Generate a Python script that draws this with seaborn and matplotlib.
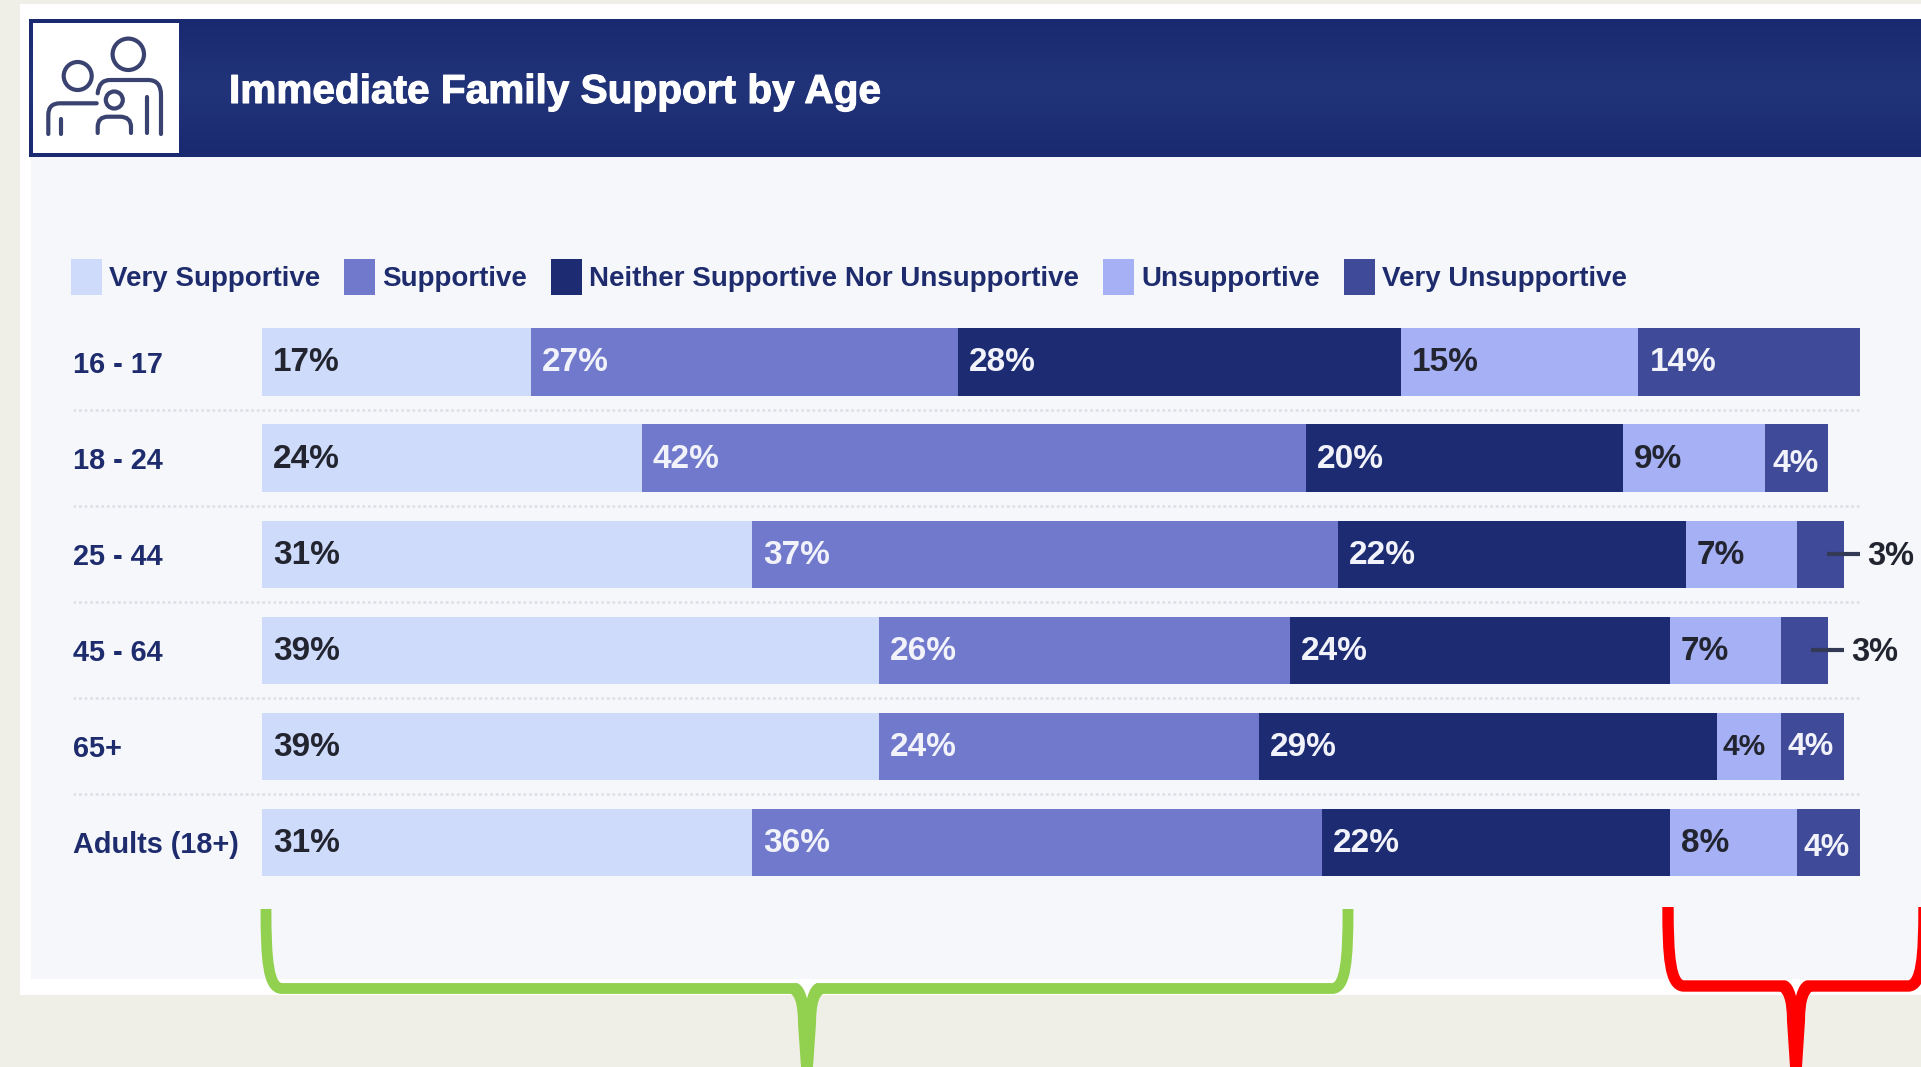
import numpy as np
import pandas as pd
import seaborn as sns
import matplotlib.pyplot as plt
import matplotlib.patheffects as pe
from matplotlib.colors import LinearSegmentedColormap
from matplotlib.patches import Rectangle, Circle, PathPatch
from matplotlib.path import Path

ages = ['16 - 17', '18 - 24', '25 - 44', '45 - 64', '65+', 'Adults (18+)']
very_supportive = [17, 24, 31, 39, 39, 31]
supportive = [27, 42, 37, 26, 24, 36]
neither = [28, 20, 22, 24, 29, 22]
unsupportive = [15, 9, 7, 7, 4, 8]
very_unsupportive = [14, 4, 3, 3, 4, 4]

series_names = ['Very Supportive', 'Supportive', 'Neither Supportive Nor Unsupportive',
                'Unsupportive', 'Very Unsupportive']
series_colors = ['#CFDBFA', '#7079CB', '#1C2B72', '#A6B0F5', '#3F4A98']
label_colors = ['#22252F', '#F2F3FA', '#F2F3FA', '#22252F', '#F2F3FA']

W, H = 1921, 1067
PX_PER_PCT = 15.82
BAR_X0 = 262
ROW0_Y = 362
ROW_PITCH = 96.1
NAVY = '#1E2C6E'

sns.set_theme(style='white')
plt.rcParams['font.family'] = ['Liberation Sans', 'DejaVu Sans']

fig = plt.figure(figsize=(W / 100, H / 100), dpi=100, facecolor='#EFEFE7')

# backdrop in pixel coordinates
bg = fig.add_axes([0, 0, 1, 1], zorder=0)
bg.add_patch(Rectangle((20, 4), W - 20, 991, color='white', lw=0, zorder=0))
bg.add_patch(Rectangle((31, 157), W - 31, 822, color='#F5F7FB', lw=0, zorder=0))
header_cmap = LinearSegmentedColormap.from_list('header', ['#1A2A70', '#213379', '#1A2A70'])
bg.imshow(np.linspace(0, 1, 64).reshape(-1, 1), extent=(29, W, 157, 19), aspect='auto',
          cmap=header_cmap, zorder=1)
bg.set_xlim(0, W)
bg.set_ylim(H, 0)
bg.axis('off')
bg.add_patch(Rectangle((33, 23), 146, 130, color='white', lw=0, zorder=2))
bg.text(229, 92, 'Immediate Family Support by Age', color='white', fontsize=29.2, fontweight='bold',
        va='center', ha='left', zorder=3, path_effects=[pe.withStroke(linewidth=0.8, foreground='white')])

# family icon
ICON = '#3A4270'
for cx, cy, r in [(128.3, 54.3, 15.7), (77.7, 76, 14), (114.3, 100, 8.5)]:
    bg.add_patch(Circle((cx, cy), r, fill=False, ec=ICON, lw=3, zorder=3))


def icon_line(verts, codes):
    bg.add_patch(PathPatch(Path(verts, codes), fill=False, ec=ICON, lw=3, capstyle='round', zorder=3))


M, L, C = Path.MOVETO, Path.LINETO, Path.CURVE3
icon_line([(97.7, 93.3), (99, 80), (110, 80), (148, 80), (161, 80), (161, 95), (161, 134)],
          [M, C, C, L, C, C, L])
icon_line([(147, 97), (147, 133)], [M, L])
icon_line([(48.3, 134), (48.3, 115), (48.3, 103.3), (60, 103.3), (96.7, 103.3)], [M, L, C, C, L])
icon_line([(60.7, 119), (60.7, 134)], [M, L])
icon_line([(97.7, 133), (97.7, 127), (97.7, 116.7), (108, 116.7), (120, 116.7), (131, 116.7), (131, 127), (131, 133)],
          [M, L, C, C, L, C, C, L])


def brace(x0, xmid, x1, ytop, ybar, color, lw):
    verts = [(x0, ytop), (x0, ybar - 30), (x0 + 2, ybar), (x0 + 16, ybar), (x1 - 16, ybar),
             (x1 - 2, ybar), (x1, ybar - 30), (x1, ytop)]
    codes = [M, Path.CURVE4, Path.CURVE4, Path.CURVE4, L, Path.CURVE4, Path.CURVE4, Path.CURVE4]
    bg.add_patch(PathPatch(Path(verts, codes), fill=False, ec=color, lw=lw, capstyle='butt', zorder=3))
    # tapered stem below the middle of the brace
    stem = [(xmid - 20, ybar + 4), (xmid - 9, ybar + 4), (xmid - 9, ybar + 35), (xmid - 6, H),
            (xmid + 6, H), (xmid + 9, ybar + 35), (xmid + 9, ybar + 4), (xmid + 20, ybar + 4),
            (xmid - 20, ybar + 4)]
    stem_codes = [M, C, C, L, L, L, C, C, Path.CLOSEPOLY]
    bg.add_patch(PathPatch(Path(stem, stem_codes), fc=color, ec='none', zorder=3))
    # small notch above the stem
    notch = [(xmid - 16, ybar - 7), (xmid - 4, ybar - 7), (xmid, ybar + 10), (xmid + 4, ybar - 7),
             (xmid + 16, ybar - 7), (xmid - 16, ybar - 7)]
    notch_codes = [M, C, C, C, C, Path.CLOSEPOLY]
    bg.add_patch(PathPatch(Path(notch, notch_codes), fc='white', ec='none', zorder=4))


brace(266, 807, 1348, 909, 988.5, '#92D050', 7.8)
brace(1668, 1796, 1924, 907, 986, '#FF0000', 8.2)

# chart axes share the whole figure, scaled so one percent is PX_PER_PCT wide
ax = fig.add_axes([0, 0, 1, 1], zorder=1)
ax.patch.set_alpha(0)

table = pd.DataFrame({'age': ages, series_names[0]: very_supportive, series_names[1]: supportive,
                      series_names[2]: neither, series_names[3]: unsupportive,
                      series_names[4]: very_unsupportive})
left = np.zeros(len(ages))
for name, col in zip(series_names, series_colors):
    sns.barplot(data=table, y='age', x=name, orient='h', left=left, color=col, width=0.7,
                saturation=1, label=name, ax=ax, errorbar=None, linewidth=0)
    left = left + table[name].to_numpy()

ax.set_xlim(-BAR_X0 / PX_PER_PCT, (W - BAR_X0) / PX_PER_PCT)
ax.set_ylim((H - ROW0_Y) / ROW_PITCH, -ROW0_Y / ROW_PITCH)
ax.axis('off')

# dotted row separators
x_sep0 = (73 - BAR_X0) / PX_PER_PCT
x_sep1 = (1860 - BAR_X0) / PX_PER_PCT
ax.hlines(np.arange(len(ages) - 1) + 0.5, x_sep0, x_sep1, color='#DFE1E6', lw=2, ls=(0, (1, 1)), zorder=0)

for i, age in enumerate(ages):
    ax.text(x_sep0, i + 0.03, age, color=NAVY, fontsize=20.8, fontweight='bold', va='center', ha='left')

# percent labels inside the segments
left = np.zeros(len(ages))
for name, lab_col in zip(series_names, label_colors):
    vals = table[name].to_numpy()
    for i, v in enumerate(vals):
        if v == 3:
            end = left[i] + v
            ax.plot([end - 1.1, end + 1.0], [i, i], color='#333A55', lw=3, solid_capstyle='butt')
            ax.text(end + 1.45, i + 0.02, f'{v}%', color='#22252F', fontsize=23.5, fontweight='bold',
                    va='center', ha='left')
        elif v == 4 and name == 'Unsupportive':
            ax.text(left[i] + 0.3, i + 0.01, f'{v}%', color=lab_col, fontsize=21.5, fontweight='bold',
                    va='center', ha='left')
        elif v == 4:
            dy = 0.01 if ages[i] == '65+' else 0.06
            ax.text(left[i] + 0.45, i + dy, f'{v}%', color=lab_col, fontsize=23, fontweight='bold',
                    va='center', ha='left')
        else:
            ax.text(left[i] + 0.7, i + 0.01, f'{v}%', color=lab_col, fontsize=24, fontweight='bold',
                    va='center', ha='left')
    left = left + vals

leg = ax.legend(loc='center left', bbox_to_anchor=(71 / W, 1 - 277 / H), bbox_transform=fig.transFigure,
                ncol=5, frameon=False, fontsize=20, borderpad=0, borderaxespad=0,
                handlelength=1.115, handleheight=1.59, handletextpad=0.26, columnspacing=0.86)
for t in leg.get_texts():
    t.set_color(NAVY)
    t.set_fontweight('bold')

fig.savefig('out.png', dpi=100, facecolor=fig.get_facecolor())
